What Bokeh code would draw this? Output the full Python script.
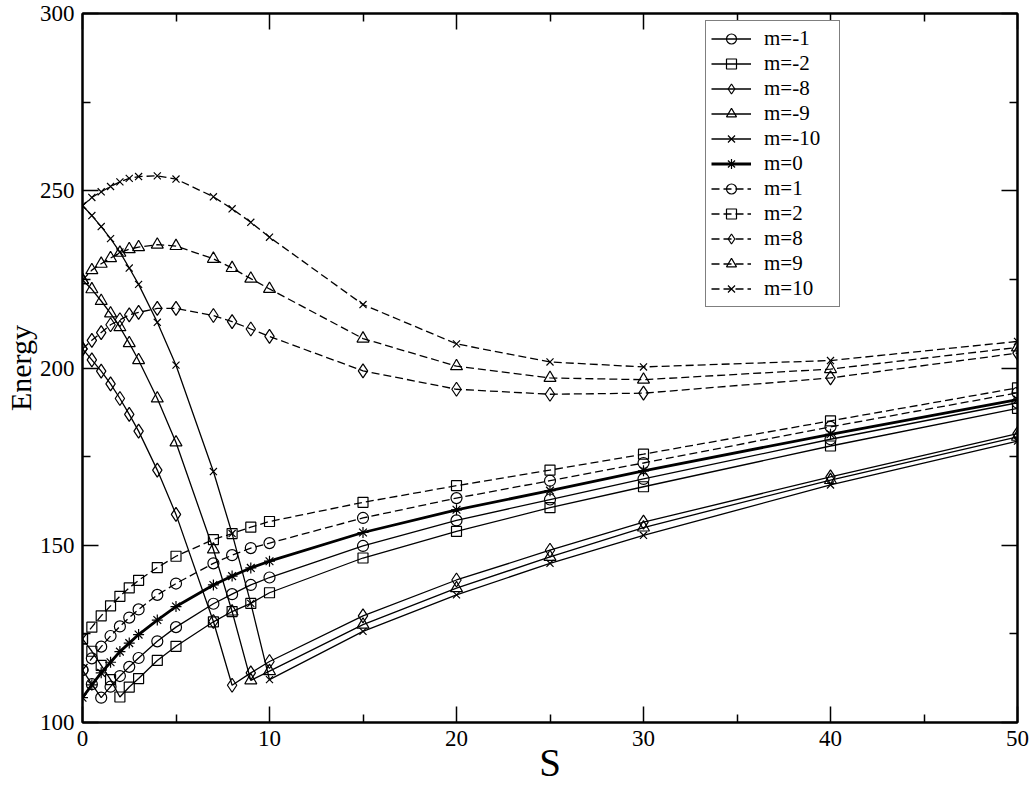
from bokeh.plotting import figure
from bokeh.models import LinearAxis, FixedTicker, Legend, LegendItem, Range1d
from bokeh.embed import file_html
from bokeh.resources import INLINE

S = [0, 0.5, 1, 1.5, 2, 2.5, 3, 4, 5, 7, 8, 9, 10, 15, 20, 25, 30, 40, 50]

E_m_neg1 = [114.8, 110.8, 107.0, 110.1, 113.1, 115.7, 118.2, 122.9, 126.9, 133.5, 136.2, 138.8, 140.9, 149.8, 157.0, 162.9, 168.7, 179.9, 190.2]
E_m_neg2 = [123.6, 120.1, 116.1, 112.1, 107.2, 110.0, 112.4, 117.5, 121.5, 128.4, 131.3, 133.6, 136.6, 146.4, 153.9, 160.6, 166.5, 178.0, 188.6]
E_m_neg8 = [205.4, 202.3, 199.1, 195.5, 191.4, 186.9, 182.2, 171.2, 158.7, 128.5, 110.5, 114.0, 117.2, 130.1, 140.2, 148.6, 156.5, 169.3, 181.5]
E_m_neg9 = [224.8, 222.2, 218.9, 215.4, 211.5, 207.0, 202.2, 191.4, 179.0, 148.8, 131.3, 111.9, 114.5, 127.6, 137.9, 146.7, 155.0, 168.4, 180.6]
E_m_neg10 = [245.8, 243.0, 239.9, 236.5, 232.7, 228.2, 223.6, 212.9, 200.8, 170.8, 153.3, 133.6, 112.1, 125.7, 136.0, 144.9, 152.8, 167.0, 179.4]
E_m_0 = [107.0, 110.6, 114.0, 117.0, 120.0, 122.4, 124.8, 128.9, 132.7, 138.8, 141.3, 143.6, 145.5, 153.6, 160.0, 165.4, 171.0, 181.3, 191.1]
E_m_1 = [114.8, 118.1, 121.4, 124.4, 127.1, 129.6, 131.9, 136.0, 139.2, 144.9, 147.2, 149.2, 150.6, 157.7, 163.3, 168.2, 173.2, 183.4, 193.0]
E_m_2 = [123.6, 126.9, 130.1, 132.9, 135.6, 138.0, 140.1, 143.7, 146.9, 151.6, 153.3, 155.1, 156.7, 162.1, 166.8, 171.2, 175.7, 185.1, 194.4]
E_m_8 = [205.4, 207.8, 210.0, 212.2, 213.6, 215.0, 215.7, 216.8, 216.8, 214.8, 213.1, 211.0, 208.9, 199.2, 194.0, 192.6, 192.9, 197.2, 204.2]
E_m_9 = [224.8, 227.6, 229.4, 231.0, 232.5, 233.5, 234.1, 234.8, 234.4, 230.8, 228.2, 225.2, 222.3, 208.3, 200.5, 197.2, 196.7, 199.7, 205.8]
E_m_10 = [245.8, 248.1, 249.7, 251.2, 252.5, 253.5, 254.0, 254.2, 253.3, 248.3, 244.9, 241.1, 236.9, 217.9, 206.8, 201.7, 200.3, 202.1, 207.5]

labels = ["m=-1", "m=-2", "m=-8", "m=-9", "m=-10", "m=0", "m=1", "m=2", "m=8", "m=9", "m=10"]
values = [E_m_neg1, E_m_neg2, E_m_neg8, E_m_neg9, E_m_neg10, E_m_0, E_m_1, E_m_2, E_m_8, E_m_9, E_m_10]
markers = ["circle", "square", "diamond", "triangle", "x", "asterisk",
           "circle", "square", "diamond", "triangle", "x"]
dashes = ["solid"] * 6 + ["8 4"] * 5
widths = [1.3] * 5 + [2.8] + [1.3] * 5
msizes = {"circle": 11, "square": 10, "diamond": 14, "triangle": 12, "x": 10, "asterisk": 11}

x_ticks = [0, 10, 20, 30, 40, 50]
x_minor = [5, 15, 25, 35, 45]
y_ticks = [100, 150, 200, 250, 300]
y_minor = [125, 175, 225, 275]

FONT = "Liberation Serif"

p = figure(width=1031, height=786, output_backend="svg", toolbar_location=None,
           x_range=Range1d(0, 50), y_range=Range1d(100, 300),
           min_border_left=81, min_border_right=14, min_border_top=13, min_border_bottom=62)
p.xgrid.visible = False
p.ygrid.visible = False
p.outline_line_color = "black"
p.outline_line_width = 2
p.background_fill_color = "white"
p.border_fill_color = "white"


def style_axis(ax, show_labels):
    ax.axis_line_width = 2
    ax.axis_line_color = "black"
    ax.major_tick_in = 16
    ax.major_tick_out = 0
    ax.minor_tick_in = 8
    ax.minor_tick_out = 0
    ax.major_tick_line_width = 1.5
    ax.minor_tick_line_width = 1.5
    ax.major_tick_line_color = "black"
    ax.minor_tick_line_color = "black"
    if show_labels:
        ax.major_label_text_font = FONT
        ax.major_label_text_font_size = "23px"
        ax.major_label_text_color = "black"
        ax.axis_label_text_font = FONT
        ax.axis_label_text_font_style = "normal"
        ax.axis_label_text_color = "black"
    else:
        ax.major_label_text_font_size = "0px"
        ax.major_label_standoff = 0
        ax.axis_label_standoff = 0


p.xaxis.ticker = FixedTicker(ticks=x_ticks, minor_ticks=x_minor)
p.yaxis.ticker = FixedTicker(ticks=y_ticks, minor_ticks=y_minor)
style_axis(p.xaxis[0], True)
style_axis(p.yaxis[0], True)
p.xaxis.major_label_standoff = 8
p.yaxis.major_label_standoff = 8
p.xaxis.axis_label = "S"
p.xaxis.axis_label_text_font_size = "39px"
p.xaxis.axis_label_text_line_height = 0.8
p.xaxis.axis_label_standoff = -8
p.yaxis.axis_label = "Energy"
p.yaxis.axis_label_text_font_size = "30px"
p.yaxis.axis_label_standoff = 0

top_ax = LinearAxis(ticker=FixedTicker(ticks=x_ticks, minor_ticks=x_minor),
                    major_label_overrides={t: "" for t in x_ticks})
right_ax = LinearAxis(ticker=FixedTicker(ticks=y_ticks, minor_ticks=y_minor),
                      major_label_overrides={t: "" for t in y_ticks})
style_axis(top_ax, False)
style_axis(right_ax, False)
p.add_layout(top_ax, "above")
p.add_layout(right_ax, "right")

items = []
for lab, vals, mk, dsh, lw in zip(labels, values, markers, dashes, widths):
    lr = p.line(S, vals, line_color="black", line_width=lw, line_dash=dsh)
    sr = p.scatter(S, vals, marker=mk, size=msizes[mk], line_color="black",
                   fill_color=None, line_width=1.2)
    items.append(LegendItem(label=lab, renderers=[lr, sr]))

legend = Legend(items=items, location=(623, 415), padding=5, spacing=0, margin=0,
                glyph_width=40, glyph_height=25, label_height=25, label_width=70,
                label_standoff=13,
                label_text_font=FONT, label_text_font_size="21px", label_text_color="black",
                border_line_color="black", border_line_width=1.3,
                background_fill_color="white", background_fill_alpha=1.0)
p.add_layout(legend)

open("out.html", "w").write(file_html(p, INLINE))
